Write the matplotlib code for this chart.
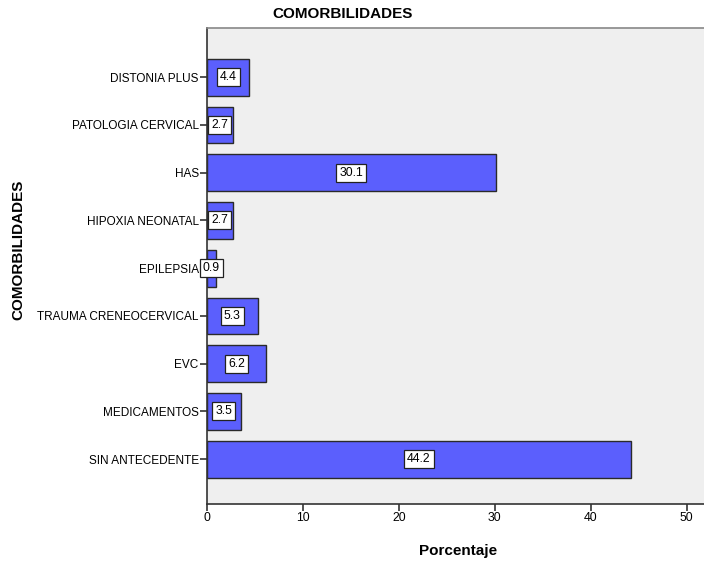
import matplotlib.pyplot as plt
import numpy as np

plt.rcParams['font.family'] = ['Liberation Sans', 'DejaVu Sans']

categorias = ['SIN ANTECEDENTE', 'MEDICAMENTOS', 'EVC', 'TRAUMA CRENEOCERVICAL',
              'EPILEPSIA', 'HIPOXIA NEONATAL', 'HAS', 'PATOLOGIA CERVICAL',
              'DISTONIA PLUS']
porcentaje = [44.2, 3.5, 6.2, 5.3, 0.9, 2.7, 30.1, 2.7, 4.4]
ticks_x = [0, 10, 20, 30, 40, 50]

fig = plt.figure(figsize=(7.04, 5.62), dpi=100)
ax = fig.add_axes([0.294, 0.1032, 0.706, 0.847])
ax.set_facecolor('#efefef')

pos = np.arange(len(categorias))
ax.barh(pos, porcentaje, height=0.77, color='#5b5ffd', edgecolor='#2a2a2a', linewidth=1.0)

# etiquetas de valor en el centro de cada barra
for y, v in zip(pos, porcentaje):
    ax.text(v / 2, y, f'{v:.1f}', ha='center', va='center', fontsize=8.8,
            bbox=dict(boxstyle='square,pad=0.25', facecolor='white',
                      edgecolor='#222222', linewidth=0.9))

ax.set_xlim(0, 51.8)
ax.set_ylim(-0.94, 9.03)
ax.set_yticks(pos)
ax.set_yticklabels(categorias, fontsize=8.5)
ax.set_xticks(ticks_x)
ax.set_xticklabels([str(t) for t in ticks_x], fontsize=8.8)
ax.tick_params(axis='both', length=5, width=1.2, color='#333333', pad=1)

for s in ['left', 'bottom']:
    ax.spines[s].set_color('#333333')
    ax.spines[s].set_linewidth(1.2)
ax.spines['top'].set_color('#888888')
ax.spines['top'].set_linewidth(1.2)
ax.spines['right'].set_visible(False)

ax.set_xlabel('Porcentaje', fontsize=11, fontweight='bold')
ax.xaxis.set_label_coords((458 - 207) / (0.706 * 704), -0.085)

fig.text(343 / 704, 1 - 14 / 562, 'COMORBILIDADES', ha='center', va='center',
         fontsize=11, fontweight='bold')
fig.text(18 / 704, 1 - 250 / 562, 'COMORBILIDADES', ha='center', va='center',
         rotation=90, fontsize=11, fontweight='bold')

fig.savefig('out.png', dpi=100)
